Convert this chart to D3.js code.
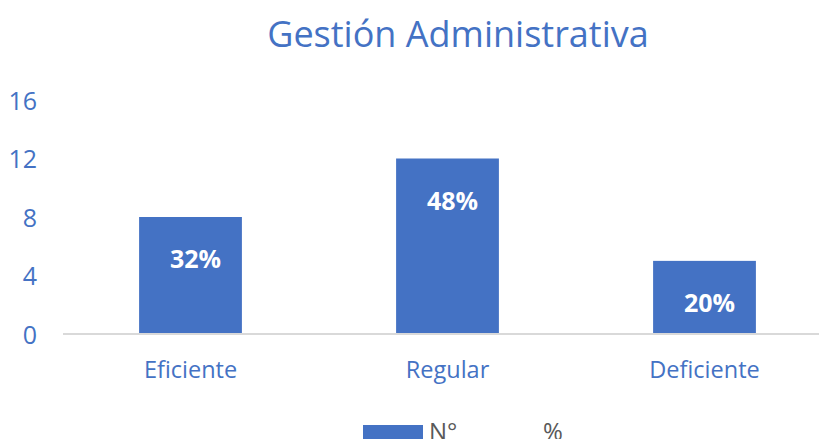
<!DOCTYPE html>
<html><head><meta charset="utf-8">
<script src="https://cdn.jsdelivr.net/npm/d3@7"></script>
<style>body{margin:0;background:#fff;}svg{display:block;font-family:"Open Sans",sans-serif;}</style>
</head><body><svg id="c" width="819" height="439"></svg>
<script>
const categories = ["Eficiente", "Regular", "Deficiente"];
const counts = [8, 12, 5];
const percents = ["32%", "48%", "20%"];
const yTicks = [0, 4, 8, 12, 16];
const legendLabels = ["N°", "%"];

const blue = "#4472C4";
const svg = d3.select("#c");
const x = d3.scaleBand().domain(categories).range([62, 833]).paddingInner(0.6).paddingOuter(0.3);
const y = d3.scaleLinear().domain([0, 16]).range([334, 100]);

svg.append("text").attr("x", 458).attr("y", 47).attr("text-anchor", "middle")
  .attr("fill", blue).attr("font-size", 36).text("Gestión Administrativa");

const ya = svg.append("g").attr("transform", "translate(37,0)")
  .call(d3.axisLeft(y).tickValues(yTicks).tickSize(0).tickPadding(0));
ya.select(".domain").remove();
ya.selectAll("text").attr("fill", blue).attr("font-size", 25).attr("font-family", "Open Sans").attr("dy", "0.36em");

svg.selectAll("rect.bar").data(counts).join("rect").attr("class", "bar")
  .attr("x", (d, i) => x(categories[i])).attr("width", x.bandwidth())
  .attr("y", d => y(d)).attr("height", d => y(0) - y(d)).attr("fill", blue);

svg.append("line").attr("x1", 63).attr("x2", 833).attr("y1", y(0)).attr("y2", y(0))
  .attr("stroke", "#D9D9D9").attr("stroke-width", 2);

svg.selectAll("text.lbl").data(counts).join("text").attr("class", "lbl")
  .attr("x", (d, i) => x(categories[i]) + x.bandwidth() / 2 + 5)
  .attr("y", d => y(d) + 42).attr("dy", "0.36em").attr("text-anchor", "middle")
  .attr("fill", "#fff").attr("font-weight", "bold").attr("font-size", 25)
  .text((d, i) => percents[i]);

const xa = svg.append("g").attr("transform", `translate(0,${y(0)})`)
  .call(d3.axisBottom(x).tickSize(0).tickPadding(0));
xa.select(".domain").remove();
xa.selectAll("text").attr("fill", blue).attr("font-size", 23.5).attr("font-family", "Open Sans")
  .attr("dy", null).attr("y", 44);

const leg = svg.append("g");
leg.append("rect").attr("x", 363).attr("y", 425).attr("width", 60).attr("height", 15).attr("fill", blue);
leg.append("text").attr("x", 429).attr("y", 440).attr("fill", "#595959").attr("font-size", 24).text(legendLabels[0]);
leg.append("text").attr("x", 543).attr("y", 440).attr("fill", "#595959").attr("font-size", 24).text(legendLabels[1]);
</script></body></html>
